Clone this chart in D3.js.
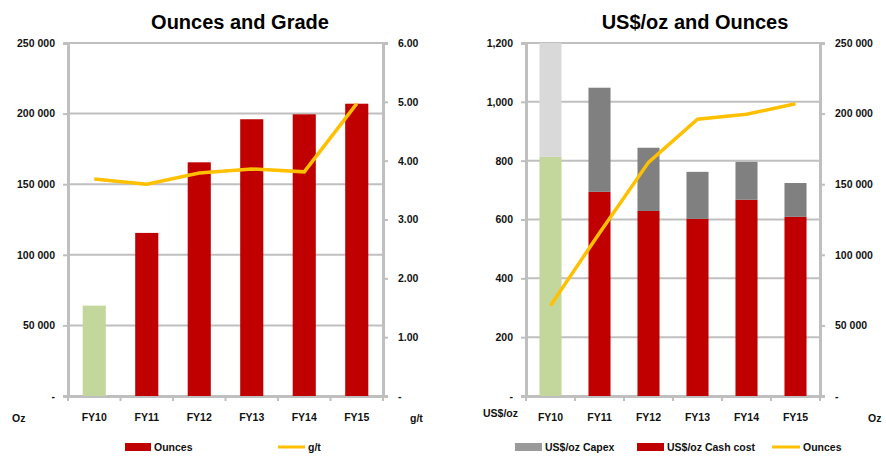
<!DOCTYPE html>
<html><head><meta charset="utf-8">
<script src="https://cdn.jsdelivr.net/npm/d3@7"></script>
<style>
body{margin:0;background:#fff;}
svg{display:block;font-family:"Liberation Sans",Arial,sans-serif;}
.t{font-weight:bold;font-size:20px;fill:#000;}
.lab{font-weight:bold;font-size:10.5px;fill:#111;}
</style></head>
<body>
<svg id="c" width="886" height="459"></svg>
<script>
const categories = ["FY10","FY11","FY12","FY13","FY14","FY15"];
const ounces = [64000, 115500, 165500, 196000, 199500, 207000];
const grade = [3.69, 3.60, 3.79, 3.86, 3.81, 4.97];
const cashCost = [813, 694, 629, 602, 667, 609];
const capex = [500, 354, 215, 160, 129, 115];
const ozTicks = [0, 50000, 100000, 150000, 200000, 250000];
const gradeTicks = [0, 1, 2, 3, 4, 5, 6];
const costTicks = [0, 200, 400, 600, 800, 1000, 1200];
const titles = ["Ounces and Grade", "US$/oz and Ounces"];
const legend1 = ["Ounces", "g/t"];
const legend2 = ["US$/oz Capex", "US$/oz Cash cost", "Ounces"];

const RED = "#c00000", GREEN = "#c3d69b", GRAY = "#808080", LGRAY = "#d9d9d9", GOLD = "#ffc000", AX = "#bfbfbf";
const svg = d3.select("#c");
const fmtOz = v => v === 0 ? "-" : d3.format(",")(v).replace(/,/g, " ");
const fmtG = v => v === 0 ? "-" : d3.format(".2f")(v);
const fmtC = v => v === 0 ? "-" : d3.format(",")(v);

function frame(g, x, yL, yR, tL, tR, fL, fR) {
  const [x0, x1] = x.range();
  const [yb, yt] = yL.range();
  // gridlines
  g.append("g").selectAll("line").data(tL.filter(v => v > 0)).join("line")
    .attr("x1", x0).attr("x2", x1).attr("y1", d => yL(d)).attr("y2", d => yL(d))
    .attr("stroke", AX).attr("stroke-width", 2);
  const la = g.append("g").attr("transform", `translate(${x0},0)`)
    .call(d3.axisLeft(yL).tickValues(tL).tickFormat(fL).tickSize(5).tickPadding(8));
  const ra = g.append("g").attr("transform", `translate(${x1},0)`)
    .call(d3.axisRight(yR).tickValues(tR).tickFormat(fR).tickSize(5).tickPadding(10));
  const ba = g.append("g").attr("transform", `translate(0,${yb})`)
    .call(d3.axisBottom(x).tickSize(0).tickPadding(18));
  [la, ra, ba].forEach(a => {
    a.select(".domain").attr("stroke", AX).attr("stroke-width", 3);
    a.selectAll(".tick line").attr("stroke", AX).attr("stroke-width", 2);
    a.selectAll("text").attr("class", "lab").attr("font-size", null).attr("font-family", null).attr("fill", null);
  });
  // bottom small ticks at category boundaries
  const step = x.step();
  const bounds = d3.range(categories.length + 1).map(i => x0 + i * step);
  g.append("g").selectAll("line").data(bounds).join("line")
    .attr("x1", d => d).attr("x2", d => d).attr("y1", yb).attr("y2", yb + 5)
    .attr("stroke", AX).attr("stroke-width", 2);
}

// ---------- Chart 1 ----------
{
  const g = svg.append("g");
  const x = d3.scaleBand().domain(categories).range([68, 383]).paddingInner(0.56).paddingOuter(0.28);
  const y = d3.scaleLinear().domain([0, 250000]).range([396, 43]);
  const yg = d3.scaleLinear().domain([0, 6]).range([396, 43]);
  frame(g, x, y, yg, ozTicks, gradeTicks, fmtOz, fmtG);
  g.append("g").selectAll("rect").data(categories).join("rect")
    .attr("x", d => x(d)).attr("width", x.bandwidth())
    .attr("y", (d, i) => y(ounces[i])).attr("height", (d, i) => y(0) - y(ounces[i]))
    .attr("fill", (d, i) => i === 0 ? GREEN : RED);
  g.append("path").datum(categories)
    .attr("d", d3.line().x(d => x(d) + x.bandwidth() / 2).y((d, i) => yg(grade[i])))
    .attr("fill", "none").attr("stroke", GOLD).attr("stroke-width", 3.5);
  g.append("text").attr("class", "t").attr("x", 240).attr("y", 29).attr("text-anchor", "middle").text(titles[0]);
  g.append("text").attr("class", "lab").attr("x", 12).attr("y", 422).text("Oz");
  g.append("text").attr("class", "lab").attr("x", 410).attr("y", 422).text("g/t");
  // legend
  g.append("rect").attr("x", 125).attr("y", 443).attr("width", 26).attr("height", 8).attr("fill", RED);
  g.append("text").attr("class", "lab").attr("x", 154).attr("y", 451).text(legend1[0]);
  g.append("line").attr("x1", 278).attr("x2", 305).attr("y1", 447).attr("y2", 447).attr("stroke", GOLD).attr("stroke-width", 3);
  g.append("text").attr("class", "lab").attr("x", 308).attr("y", 451).text(legend1[1]);
}

// ---------- Chart 2 ----------
{
  const g = svg.append("g");
  const x = d3.scaleBand().domain(categories).range([526, 820]).paddingInner(0.55).paddingOuter(0.275);
  const y = d3.scaleLinear().domain([0, 1200]).range([396, 43]);
  const yo = d3.scaleLinear().domain([0, 250000]).range([396, 43]);
  frame(g, x, y, yo, costTicks, ozTicks, fmtC, fmtOz);
  svg.append("defs").append("clipPath").attr("id", "clip2").append("rect")
    .attr("x", 526).attr("y", 43).attr("width", 294).attr("height", 353);
  const bars = g.append("g").attr("clip-path", "url(#clip2)");
  bars.selectAll("rect.cash").data(categories).join("rect").attr("class", "cash")
    .attr("x", d => x(d)).attr("width", x.bandwidth())
    .attr("y", (d, i) => y(cashCost[i])).attr("height", (d, i) => y(0) - y(cashCost[i]))
    .attr("fill", (d, i) => i === 0 ? GREEN : RED);
  bars.selectAll("rect.capex").data(categories).join("rect").attr("class", "capex")
    .attr("x", d => x(d)).attr("width", x.bandwidth())
    .attr("y", (d, i) => y(cashCost[i] + capex[i])).attr("height", (d, i) => y(cashCost[i]) - y(cashCost[i] + capex[i]))
    .attr("fill", (d, i) => i === 0 ? LGRAY : GRAY);
  g.append("path").datum(categories)
    .attr("d", d3.line().x(d => x(d) + x.bandwidth() / 2).y((d, i) => yo(ounces[i])))
    .attr("fill", "none").attr("stroke", GOLD).attr("stroke-width", 3.5);
  g.append("text").attr("class", "t").attr("x", 695).attr("y", 29).attr("text-anchor", "middle").text(titles[1]);
  g.append("text").attr("class", "lab").attr("x", 483).attr("y", 417).text("US$/oz");
  g.append("text").attr("class", "lab").attr("x", 868).attr("y", 422).text("Oz");
  // legend
  g.append("rect").attr("x", 515).attr("y", 443).attr("width", 27).attr("height", 8).attr("fill", "#9a9a9a");
  g.append("text").attr("class", "lab").attr("x", 545).attr("y", 451).text(legend2[0]);
  g.append("rect").attr("x", 637).attr("y", 443).attr("width", 27).attr("height", 8).attr("fill", RED);
  g.append("text").attr("class", "lab").attr("x", 667).attr("y", 451).text(legend2[1]);
  g.append("line").attr("x1", 772).attr("x2", 800).attr("y1", 447).attr("y2", 447).attr("stroke", GOLD).attr("stroke-width", 3);
  g.append("text").attr("class", "lab").attr("x", 803).attr("y", 451).text(legend2[2]);
}
</script>
</body></html>
